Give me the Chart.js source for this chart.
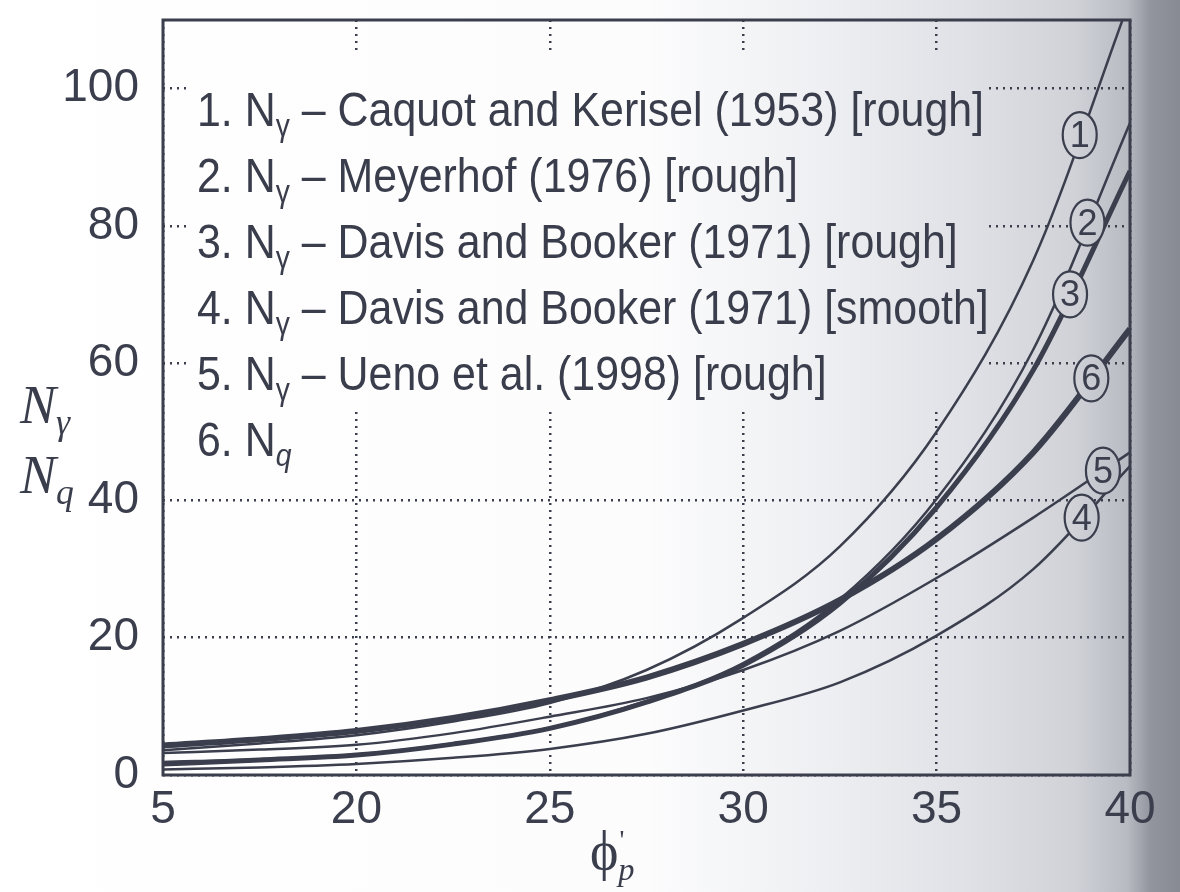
<!DOCTYPE html>
<html lang="en">
<head>
<meta charset="UTF-8">
<title>N gamma and Nq against phi'p</title>
<script src="https://cdn.jsdelivr.net/npm/chart.js@4.4.1/dist/chart.umd.min.js"></script>
<style>
  html, body { margin: 0; padding: 0; }
  body {
    width: 1180px; height: 892px; overflow: hidden;
    background: linear-gradient(to right, #ffffff 0%, #fcfcfd 55%, #eeeff2 70%, #e0e1e6 82%, #d0d2d8 91%, #b9bbc3 95.5%, #92959e 97.5%, #878a93 100%) fixed;
    font-family: 'Liberation Sans Narrow', 'Liberation Sans', sans-serif;
    color: #3a3d4b;
  }
  #wrap { position: relative; width: 1180px; height: 892px; }
  #legend {
    position: absolute; left: 190px; top: 55px; width: 795px; height: 355px;
    box-sizing: border-box; padding: 22px 0 0 7px;
  }
  #legend .rows {
    font-size: 48px; line-height: 66px; white-space: nowrap;
    transform: scaleX(0.894); transform-origin: left top;
  }
  #legend sub, #ytitle sub { font-size: 0.66em; line-height: 0; vertical-align: -0.3em; }
  #ytitle {
    position: absolute; left: 20px; top: 370px;
    font-family: 'Liberation Serif', 'DejaVu Serif', serif; font-style: italic;
    font-size: 54px; line-height: 70px;
  }
  #xtitle {
    position: absolute; left: 590px; top: 820px;
    font-family: 'Liberation Serif', 'DejaVu Serif', serif; font-size: 54px;
  }
  #xtitle sup { font-size: 0.5em; vertical-align: 0.75em; margin-left: 1px; }
  #xtitle sub { font-size: 0.6em; font-style: italic; vertical-align: -0.35em; margin-left: -6px; }
</style>
</head>
<body>
<div id="wrap">
  <canvas id="chart"></canvas>
  <div id="legend">
    <div class="rows">
      <div>1. N<sub>γ</sub> – Caquot and Kerisel (1953) [rough]</div>
      <div>2. N<sub>γ</sub> – Meyerhof (1976) [rough]</div>
      <div>3. N<sub>γ</sub> – Davis and Booker (1971) [rough]</div>
      <div>4. N<sub>γ</sub> – Davis and Booker (1971) [smooth]</div>
      <div>5. N<sub>γ</sub> – Ueno et al. (1998) [rough]</div>
      <div>6. N<sub><i>q</i></sub></div>
    </div>
  </div>
  <div id="ytitle">N<sub>γ</sub><br>N<sub>q</sub></div>
  <div id="xtitle">ϕ<sup>'</sup><sub>p</sub></div>
</div>
<script>
// friction angle (degrees) and the six curves
const phi = [15, 17.5, 20, 22.5, 25, 27.5, 30, 32.5, 35, 37.5, 40];
const caquotKerisel     = [3.6, 4.6, 5.8, 7.8, 10.5, 15.3, 22.9, 33.3, 50.0, 75.0, 113.0];
const meyerhof          = [1.9, 2.3, 3.0, 4.6, 6.9, 10.8, 16.3, 25.6, 40.2, 62.0, 95.0];
const davisBookerRough  = [1.6, 2.2, 2.9, 4.5, 6.8, 10.6, 16.0, 25.0, 39.0, 59.0, 88.0];
const davisBookerSmooth = [0.8, 1.1, 1.6, 2.5, 3.8, 6.0, 9.4, 13.5, 20.3, 30.0, 45.0];
const uenoEtAl          = [3.2, 3.7, 4.4, 6.1, 8.5, 11.2, 15.3, 21.0, 28.7, 37.5, 47.0];
const nq                = [4.3, 5.2, 6.4, 8.3, 10.9, 14.2, 19.1, 25.5, 34.4, 47.0, 65.0];

const xTickValues = [15, 20, 25, 30, 35, 40];
const xTickText = ['5', '20', '25', '30', '35', '40'];
const yTickValues = [0, 20, 40, 60, 80, 100];

const ink = '#3b3e4d';
const series = [
  { name: '1', data: caquotKerisel, width: 2.5, at: 38.7 },
  { name: '2', data: meyerhof, width: 2.5, at: 38.9 },
  { name: '3', data: davisBookerRough, width: 5, at: 38.45 },
  { name: '4', data: davisBookerSmooth, width: 2.5, at: 38.75 },
  { name: '5', data: uenoEtAl, width: 2.5, at: 39.3 },
  { name: '6', data: nq, width: 6, at: 39.0 }
];

// clears the grid under the legend, draws the box and the circled curve numbers
const framePlugin = {
  id: 'frame',
  beforeDatasetsDraw(chart) {
    const cr = chart.canvas.getBoundingClientRect();
    const r = document.getElementById('legend').getBoundingClientRect();
    chart.ctx.clearRect(r.left - cr.left, r.top - cr.top, r.width, r.height);
  },
  afterDatasetsDraw(chart) {
    const ctx = chart.ctx;
    const a = chart.chartArea;
    const xs = chart.scales.x;
    ctx.save();
    ctx.strokeStyle = ink;
    ctx.lineWidth = 3;
    ctx.strokeRect(a.left, a.top, a.right - a.left, a.bottom - a.top);

    series.forEach((s, k) => {
      const pts = chart.getDatasetMeta(k).data;
      let i = 0;
      while (i < phi.length - 2 && phi[i + 1] < s.at) i++;
      const t = (s.at - phi[i]) / (phi[i + 1] - phi[i]);
      const px = xs.getPixelForValue(s.at);
      const py = pts[i].y + (pts[i + 1].y - pts[i].y) * t;
      ctx.beginPath();
      ctx.ellipse(px, py, 17, 23, 0, 0, Math.PI * 2);
      ctx.globalCompositeOperation = 'destination-out';
      ctx.fill();
      ctx.globalCompositeOperation = 'source-over';
      ctx.lineWidth = 2.2;
      ctx.stroke();
      ctx.fillStyle = ink;
      ctx.font = "36px 'Liberation Sans Narrow', 'Liberation Sans', sans-serif";
      ctx.textAlign = 'center';
      ctx.textBaseline = 'middle';
      ctx.fillText(s.name, px, py + 2);
    });
    ctx.restore();
  }
};

const tickFont = { family: "'Liberation Sans Narrow', 'Liberation Sans', sans-serif", size: 46 };

new Chart(document.getElementById('chart'), {
  type: 'line',
  data: {
    datasets: series.map(s => ({
      label: s.name,
      data: phi.map((x, i) => ({ x: x, y: s.data[i] })),
      borderColor: ink,
      borderWidth: s.width,
      pointRadius: 0,
      fill: false,
      cubicInterpolationMode: 'monotone'
    }))
  },
  options: {
    responsive: true,
    maintainAspectRatio: false,
    animation: false,
    layout: { padding: { top: 20, right: 50, left: 0, bottom: 0 } },
    plugins: { legend: { display: false }, tooltip: { enabled: false } },
    scales: {
      x: {
        type: 'linear', min: 15, max: 40,
        afterBuildTicks: s => { s.ticks = xTickValues.map(v => ({ value: v })); },
        afterFit: s => { s.height = 117; s.paddingLeft = 0; s.paddingRight = 0; },
        ticks: {
          color: ink, font: tickFont, padding: 8, maxRotation: 0,
          callback: v => xTickText[xTickValues.indexOf(v)]
        },
        grid: { color: ink, lineWidth: 2.5, drawTicks: false },
        border: { display: false, dash: [2, 5] }
      },
      y: {
        type: 'linear', min: 0, max: 110,
        afterBuildTicks: s => { s.ticks = yTickValues.map(v => ({ value: v })); },
        afterFit: s => { s.width = 163; s.paddingTop = 0; s.paddingBottom = 0; },
        ticks: { color: ink, font: tickFont, padding: 24 },
        grid: { color: ink, lineWidth: 2.5, drawTicks: false },
        border: { display: false, dash: [2, 5] }
      }
    }
  },
  plugins: [framePlugin]
});
</script>
</body>
</html>
